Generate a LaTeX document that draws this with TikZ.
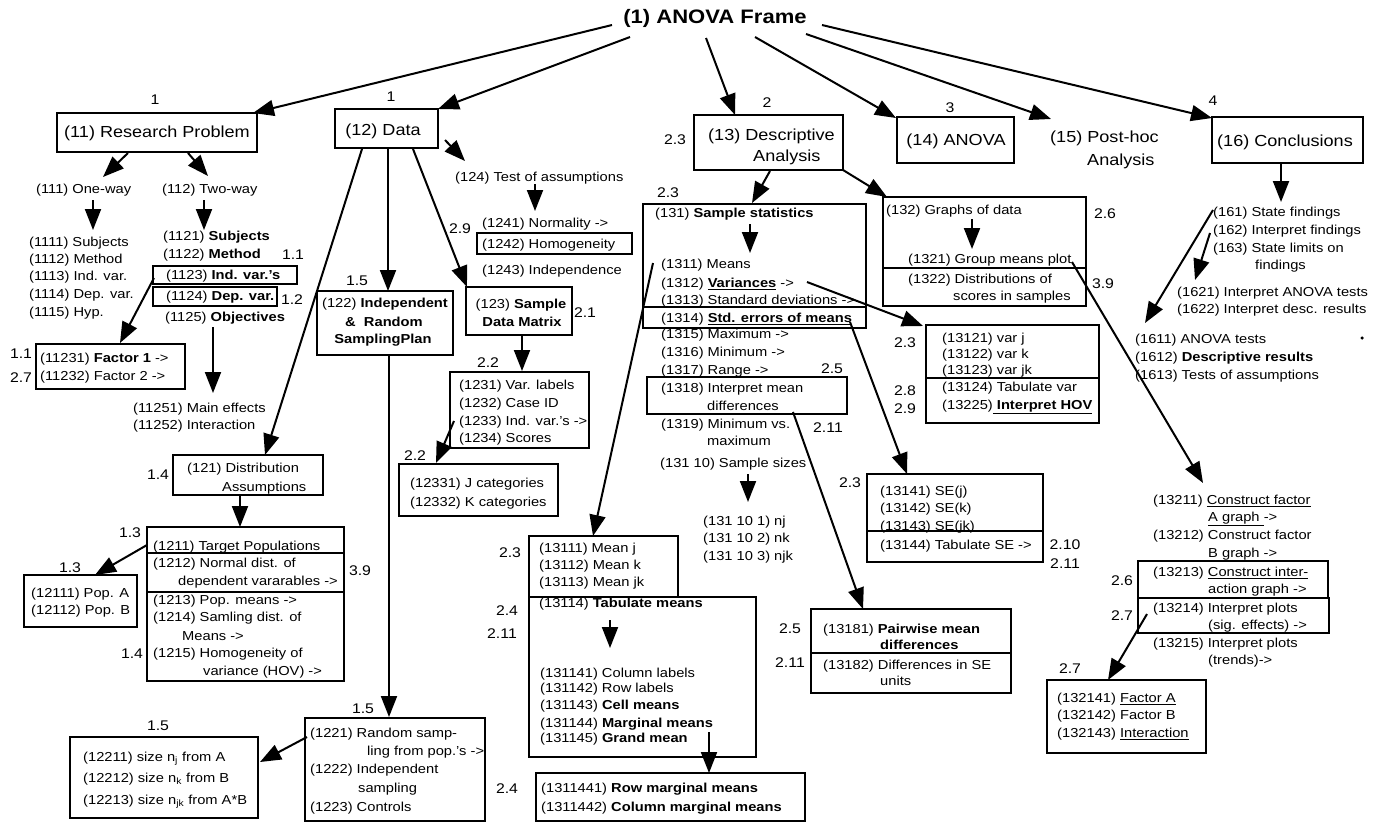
\documentclass[tikz,border=0pt]{standalone}
\usepackage{fontspec}
\setmainfont{Liberation Sans}[FakeStretch=1.13]
\usetikzlibrary{arrows.meta,fit}
\newcommand{\txl}[4]{\node[t] (#1) at (#2,#3) {#4};}
\newcommand{\numlab}[4]{\node[lab] (#1) at (#2,#3) {#4};}
\newcommand{\boxn}[5]{\node[bx={(#2,#3) (#4,#5)}] (#1) {};}
\newcommand{\arrw}[5]{\coordinate (#1-s) at (#2,#3); \coordinate (#1-e) at (#4,#5); \draw[arr] (#1-s) -- (#1-e);}
\begin{document}
\begin{tikzpicture}[x=1pt,y=-1pt,
  every node/.style={font=\fontsize{13}{17}\selectfont},
  t/.style={anchor=west,inner sep=0pt,text height=9pt,text depth=0pt},
  lab/.style={font=\fontsize{14}{16}\selectfont,inner sep=0pt,text height=10pt,text depth=0pt},
  big/.style={font=\fontsize{16}{19}\selectfont,inner sep=0pt,text height=11.5pt,text depth=0pt},
  bx/.style={draw,line width=1.5pt,inner sep=0pt,fit={#1}},
  ln/.style={line width=1.5pt},
  arr/.style={line width=2pt,-{Triangle[length=21pt,width=16pt]}}]
\useasboundingbox (0,0) rectangle (1375,823);

% ---------- top ----------
\node[font=\fontsize{19.5}{22}\selectfont\bfseries,inner sep=0pt] (title) at (715,18) {(1) ANOVA Frame};
\arrw{a1}{612}{25}{253}{113}
\arrw{a2}{630}{37}{438}{109}
\arrw{a3}{706}{38}{735}{115}
\arrw{a4}{755}{37}{896}{118}
\arrw{a5}{806}{34}{1051}{119}
\arrw{a6}{822}{25}{1212}{118}
\numlab{l1a}{155}{99}{1}
\numlab{l1b}{391}{96}{1}
\numlab{l2}{767}{102}{2}
\numlab{l3}{950}{107}{3}
\numlab{l4}{1213}{100}{4}

\boxn{b11}{57}{113}{257}{152}
\node[big] (t11) at (157,132) {(11) Research Problem};
\boxn{b12}{335}{109}{438}{148}
\node[big] (t12) at (383,130) {(12) Data};
\boxn{b13}{694}{115}{843}{170}
\node[big,anchor=west] (t13a) at (708,135) {(13) Descriptive};
\node[big,anchor=west] (t13b) at (753,156) {Analysis};
\numlab{l23a}{675}{139}{2.3}
\boxn{b14}{897}{117}{1014}{163}
\node[big] (t14) at (956,140) {(14) ANOVA};
\node[big,anchor=west] (t15a) at (1050,137) {(15) Post-hoc};
\node[big,anchor=west] (t15b) at (1087,160) {Analysis};
\boxn{b16}{1212}{117}{1363}{163}
\node[big] (t16) at (1285,141) {(16) Conclusions};

% ---------- (11) ----------
\txl{n111}{36}{189}{(111) One-way}
\txl{n112}{162}{189}{(112) Two-way}
\arrw{r1}{128}{153}{103}{177}
\arrw{r2}{188}{153}{208}{176}
\arrw{s111}{93}{200}{93}{230}
\arrw{s112}{204}{200}{204}{230}
\txl{n1111}{29}{242}{(1111) Subjects}
\txl{n1112}{29}{259}{(1112) Method}
\txl{n1113}{29}{276}{(1113) Ind. var.}
\txl{n1114}{29}{294}{(1114) Dep. var.}
\txl{n1115}{29}{312}{(1115) Hyp.}
\txl{n1121}{163}{236}{(1121) \textbf{Subjects}}
\txl{n1122}{163}{254}{(1122) \textbf{Method}}
\numlab{l11a}{293}{254}{1.1}
\boxn{b1123}{153}{266}{297}{284}
\txl{n1123}{166}{275}{(1123) \textbf{Ind. var.'s}}
\boxn{b1124}{153}{287}{277}{306}
\txl{n1124}{166}{296}{(1124) \textbf{Dep. var.}}
\numlab{l12a}{292}{299}{1.2}
\txl{n1125}{165}{317}{(1125) \textbf{Objectives}}
\arrw{r3}{154}{278}{120}{343}
\arrw{r4}{213}{327}{213}{393}
\boxn{bF}{36}{344}{185}{389}
\txl{n11231}{40}{358}{(11231) \textbf{Factor 1} ->}
\txl{n11232}{40}{376}{(11232) Factor 2 ->}
\numlab{l11b}{21}{353}{1.1}
\numlab{l27a}{21}{377}{2.7}
\txl{n11251}{133}{408}{(11251) Main effects}
\txl{n11252}{133}{425}{(11252) Interaction}

% ---------- (12) ----------
\arrw{d1}{362}{149}{265}{455}
\arrw{d2}{388}{149}{388}{291}
\arrw{d3}{413}{149}{467}{287}
\arrw{d4}{445}{140}{465}{161}
\txl{n124}{455}{177}{(124) Test of assumptions}
\arrw{s124}{535}{184}{535}{211}
\txl{n1241}{482}{223}{(1241) Normality ->}
\boxn{b1242}{477}{233}{632}{254}
\txl{n1242}{482}{244}{(1242) Homogeneity}
\txl{n1243}{482}{270}{(1243) Independence}
\numlab{l29a}{460}{228}{2.9}
\numlab{l15a}{357}{280}{1.5}

\boxn{b122}{317}{291}{453}{355}
\node[inner sep=0pt,text height=9pt,text depth=0pt] (n122a) at (385,303) {(122) \textbf{Independent}};
\node[inner sep=0pt,text height=9pt,text depth=0pt] (n122b) at (384,322) {\textbf{\&\ \ Random}};
\node[inner sep=0pt,text height=9pt,text depth=0pt] (n122c) at (383,339) {\textbf{SamplingPlan}};

\boxn{b123}{466}{287}{572}{335}
\node[inner sep=0pt,text height=9pt,text depth=0pt] (n123a) at (521,304) {(123) \textbf{Sample}};
\node[inner sep=0pt,text height=9pt,text depth=0pt] (n123b) at (522,322) {\textbf{Data Matrix}};
\numlab{l21}{585}{312}{2.1}
\arrw{d5}{522}{335}{522}{371}
\numlab{l22a}{488}{362}{2.2}
\boxn{b1231}{450}{372}{589}{448}
\txl{n1231}{459}{385}{(1231) Var. labels}
\txl{n1232}{459}{403}{(1232) Case ID}
\txl{n1233}{459}{421}{(1233) Ind. var.'s ->}
\txl{n1234}{459}{438}{(1234) Scores}
\arrw{d6}{454}{421}{436}{463}
\numlab{l22b}{415}{455}{2.2}
\boxn{b12331}{399}{464}{558}{516}
\txl{n12331}{410}{483}{(12331) J categories}
\txl{n12332}{410}{502}{(12332) K categories}

\boxn{b121}{173}{455}{323}{495}
\txl{n121a}{187}{468}{(121) Distribution}
\txl{n121b}{222}{487}{Assumptions}
\numlab{l14a}{158}{474}{1.4}
\arrw{d7}{240}{495}{240}{527}
\boxn{b1211}{147}{527}{344}{681}
\draw[ln] (147,553) -- (344,553);
\draw[ln] (147,592) -- (344,592);
\txl{n1211}{153}{546}{(1211) Target Populations}
\txl{n1212a}{153}{563}{(1212) Normal dist. of}
\txl{n1212b}{178}{581}{dependent vararables ->}
\txl{n1213}{153}{600}{(1213) Pop. means ->}
\txl{n1214a}{153}{617}{(1214) Samling dist. of}
\txl{n1214b}{182}{636}{Means ->}
\txl{n1215a}{153}{653}{(1215) Homogeneity of}
\txl{n1215b}{203}{671}{variance (HOV) ->}
\numlab{l13a}{130}{532}{1.3}
\numlab{l13b}{70}{567}{1.3}
\numlab{l39a}{360}{570}{3.9}
\numlab{l14b}{132}{653}{1.4}
\arrw{d8}{147}{545}{95}{575}
\boxn{b12111}{24}{575}{137}{627}
\txl{n12111}{31}{593}{(12111) Pop. A}
\txl{n12112}{31}{610}{(12112) Pop. B}

\arrw{d9}{389}{355}{389}{717}
\numlab{l15b}{363}{708}{1.5}
\boxn{b1221}{305}{718}{485}{821}
\txl{n1221a}{310}{733}{(1221) Random samp-}
\txl{n1221b}{367}{751}{ling from pop.'s ->}
\txl{n1222a}{310}{769}{(1222) Independent}
\txl{n1222b}{358}{788}{sampling}
\txl{n1223}{310}{807}{(1223) Controls}
\arrw{d10}{307}{737}{260}{762}
\numlab{l15c}{158}{725}{1.5}
\boxn{b12211}{70}{737}{258}{818}
\txl{n12211}{83}{757}{(12211) size n\textsubscript{j} from A}
\txl{n12212}{83}{778}{(12212) size n\textsubscript{k} from B}
\txl{n12213}{83}{800}{(12213) size n\textsubscript{jk} from A*B}

% ---------- (13) ----------
\arrw{e1}{770}{171}{752}{203}
\arrw{e2}{843}{170}{887}{197}
\numlab{l23b}{668}{192}{2.3}
\boxn{b131}{643}{204}{866}{328}
\draw[ln] (643,307) -- (866,307);
\txl{n131}{655}{213}{(131) \textbf{Sample statistics}}
\arrw{s131}{750}{224}{750}{253}
\txl{n1311}{661}{264}{(1311) Means}
\txl{n1312}{661}{283}{(1312) \underline{\textbf{Variances}} ->}
\txl{n1313}{661}{300}{(1313) Standard deviations ->}
\txl{n1314}{661}{318}{(1314) \underline{\textbf{Std. errors of means}}}
\txl{n1315}{661}{334}{(1315) Maximum ->}
\txl{n1316}{661}{352}{(1316) Minimum ->}
\txl{n1317}{661}{370}{(1317) Range ->}
\boxn{b1318}{647}{377}{847}{414}
\txl{n1318a}{661}{388}{(1318) Interpret mean}
\txl{n1318b}{707}{406}{differences}
\numlab{l25a}{832}{368}{2.5}
\txl{n1319a}{661}{424}{(1319) Minimum vs.}
\txl{n1319b}{707}{441}{maximum}
\numlab{l211a}{828}{427}{2.11}
\txl{n13110}{660}{463}{(131 10) Sample sizes}
\arrw{s1310}{748}{474}{748}{502}
\txl{n131101}{703}{521}{(131 10 1) nj}
\txl{n131102}{703}{538}{(131 10 2) nk}
\txl{n131103}{703}{556}{(131 10 3) njk}

\arrw{e3}{653}{263}{593}{536}
\boxn{b13111}{529}{536}{678}{597}
\boxn{b13114}{529}{597}{756}{757}
\txl{n13111}{539}{548}{(13111) Mean j}
\txl{n13112}{539}{565}{(13112) Mean k}
\txl{n13113}{539}{582}{(13113) Mean jk}
\txl{n13114}{539}{603}{(13114) \textbf{Tabulate means}}
\arrw{s13114}{610}{620}{610}{648}
\txl{n131141}{540}{673}{(131141) Column labels}
\txl{n131142}{540}{688}{(131142) Row labels}
\txl{n131143}{540}{705}{(131143) \textbf{Cell means}}
\txl{n131144}{540}{723}{(131144) \textbf{Marginal means}}
\txl{n131145}{540}{738}{(131145) \textbf{Grand mean}}
\numlab{l23c}{510}{552}{2.3}
\numlab{l24a}{507}{610}{2.4}
\numlab{l211b}{502}{633}{2.11}
\arrw{e4}{709}{732}{709}{773}
\boxn{b1311441}{536}{773}{805}{821}
\txl{n1311441}{541}{788}{(1311441) \textbf{Row marginal means}}
\txl{n1311442}{541}{807}{(1311442) \textbf{Column marginal means}}
\numlab{l24b}{507}{788}{2.4}

\boxn{b132}{883}{197}{1086}{306}
\draw[ln] (883,268) -- (1086,268);
\txl{n132}{886}{210}{(132) Graphs of data}
\arrw{s132}{972}{219}{972}{249}
\txl{n1321}{908}{259}{(1321) Group means plot}
\txl{n1322a}{908}{279}{(1322) Distributions of}
\txl{n1322b}{953}{296}{scores in samples}
\numlab{l26a}{1105}{213}{2.6}
\numlab{l39b}{1103}{283}{3.9}
\arrw{e5}{1072}{262}{1203}{483}

\arrw{e6}{807}{282}{923}{326}
\boxn{b13121}{926}{325}{1099}{423}
\draw[ln] (926,378) -- (1099,378);
\txl{n13121}{942}{338}{(13121) var j}
\txl{n13122}{942}{354}{(13122) var k}
\txl{n13123}{942}{370}{(13123) var jk}
\txl{n13124}{942}{387}{(13124) Tabulate var}
\txl{n13225}{942}{405}{(13225)\underline{\textbf{ Interpret HOV}}}
\numlab{l23d}{905}{342}{2.3}
\numlab{l28}{905}{390}{2.8}
\numlab{l29b}{905}{408}{2.9}

\arrw{e7}{850}{322}{907}{474}
\boxn{b13141}{867}{474}{1043}{562}
\txl{n13141}{880}{491}{(13141) SE(j)}
\txl{n13142}{880}{508}{(13142) SE(k)}
\txl{n13143}{880}{526}{(13143) SE(jk)}
\draw[ln] (867,531) -- (1043,531);
\txl{n13144}{880}{545}{(13144) Tabulate SE ->}
\numlab{l23e}{850}{482}{2.3}
\numlab{l210}{1065}{544}{2.10}
\numlab{l211c}{1065}{563}{2.11}

\arrw{e8}{793}{412}{863}{609}
\boxn{b13181}{811}{609}{1011}{693}
\draw[ln] (811,653) -- (1011,653);
\txl{n13181a}{823}{629}{(13181) \textbf{Pairwise mean}}
\txl{n13181b}{880}{645}{\textbf{differences}}
\txl{n13182a}{823}{665}{(13182) Differences in SE}
\txl{n13182b}{880}{681}{units}
\numlab{l25b}{790}{628}{2.5}
\numlab{l211d}{790}{662}{2.11}

\txl{n13211a}{1153}{500}{(13211) \underline{Construct factor}}
\txl{n13211b}{1208}{517}{\underline{A graph }->}
\txl{n13212a}{1153}{535}{(13212) Construct factor}
\txl{n13212b}{1208}{553}{B graph ->}
\boxn{b13213}{1138}{561}{1328}{598}
\txl{n13213a}{1153}{572}{(13213) \underline{Construct inter-}}
\txl{n13213b}{1208}{589}{\underline{action graph} ->}
\boxn{b13214}{1138}{598}{1329}{633}
\txl{n13214a}{1153}{608}{(13214) Interpret plots}
\txl{n13214b}{1208}{625}{(sig. effects) ->}
\txl{n13215a}{1153}{643}{(13215) Interpret plots}
\txl{n13215b}{1208}{660}{(trends)->}
\numlab{l26b}{1122}{580}{2.6}
\numlab{l27b}{1122}{615}{2.7}
\numlab{l27c}{1070}{668}{2.7}
\arrw{e9}{1147}{614}{1108}{680}
\boxn{b132141}{1047}{680}{1206}{753}
\txl{n132141}{1057}{698}{(132141) \underline{Factor A}}
\txl{n132142}{1057}{715}{(132142) Factor B}
\txl{n132143}{1057}{733}{(132143) \underline{Interaction}}

% ---------- (16) ----------
\arrw{s16}{1281}{163}{1281}{202}
\txl{n161}{1213}{212}{(161) State findings}
\txl{n162}{1213}{230}{(162) Interpret findings}
\txl{n163a}{1213}{248}{(163) State limits on}
\txl{n163b}{1255}{265}{findings}
\txl{n1621}{1177}{292}{(1621) Interpret ANOVA tests}
\txl{n1622}{1177}{309}{(1622) Interpret desc. results}
\txl{n1611}{1135}{339}{(1611) ANOVA tests}
\txl{n1612}{1135}{357}{(1612) \textbf{Descriptive results}}
\txl{n1613}{1135}{375}{(1613) Tests of assumptions}
\node[circle,fill,inner sep=0pt,minimum size=3.5pt] (dot) at (1362,338) {};
\arrw{f1}{1213}{210}{1145}{323}
\arrw{f2}{1210}{233}{1195}{280}
\end{tikzpicture}
\end{document}
